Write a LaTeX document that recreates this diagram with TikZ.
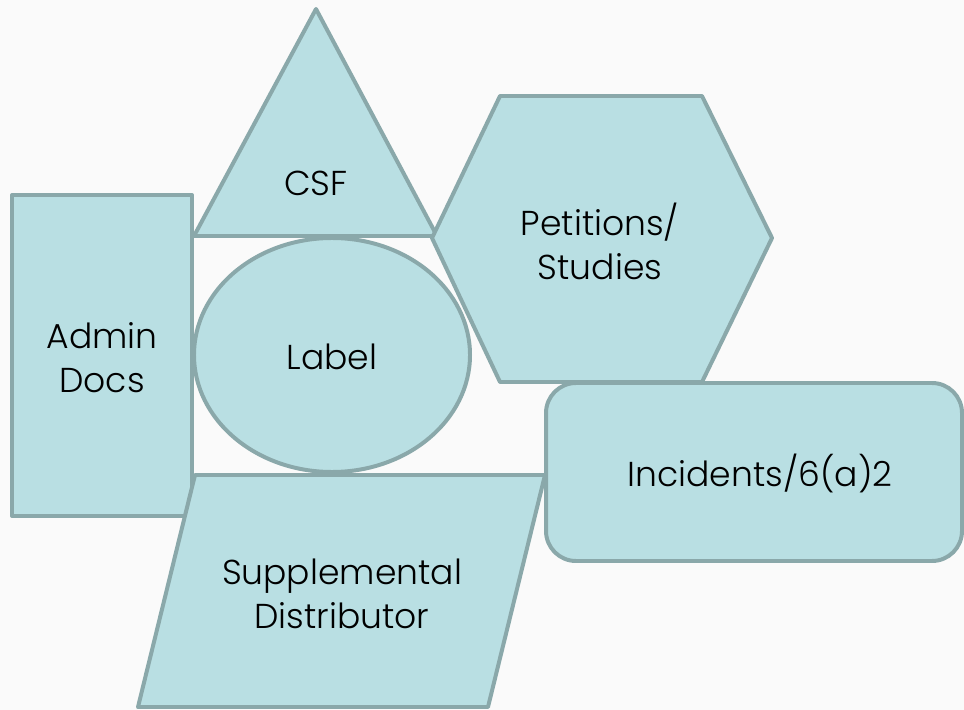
\documentclass[tikz,border=0pt]{standalone}
\usepackage{fontspec}
\setmainfont{Poppins Light}
\definecolor{shapefill}{HTML}{B9DFE3}
\definecolor{shapeline}{HTML}{8AA8AA}
\definecolor{pagebg}{HTML}{FAFAFA}
\tikzset{
  blockshape/.style={fill=shapefill, draw=shapeline, line width=3.4pt, line join=round},
  lbl/.style={align=center, text=black, font=\fontsize{29.5}{37.5}\selectfont}
}
\begin{document}
\begin{tikzpicture}[x=0.03cm, y=-0.03cm]
    \fill[pagebg] (0, 0) rectangle (964, 710);
    \useasboundingbox (0, 0) rectangle (964, 710);

    \draw[blockshape] (12, 195) rectangle (192, 516);
    \node[lbl] (admin) at (102, 358) {Admin\\Docs};

    \draw[blockshape] (316, 9) -- (437, 236) -- (194, 236) -- cycle;
    \node[lbl] (csf) at (316, 183) {CSF};

    \draw[blockshape] (332, 355) ellipse (138 and 117);
    \node[lbl] (label) at (332, 357) {Label};

    \draw[blockshape] (500, 96) -- (702, 96) -- (772, 238) -- (702, 382) -- (500, 382) -- (432, 238) -- cycle;
    \node[lbl] (petitions) at (600, 241) {Petitions/\\Studies};

    \draw[blockshape] (195, 475) -- (545, 475) -- (488, 707) -- (138, 707) -- cycle;
    \node[lbl] (supplemental) at (342, 594) {Supplemental\\Distributor};

    \draw[blockshape, rounded corners=0.9cm] (546, 383) rectangle (962, 561);
    \node[lbl] (incidents) at (760, 473) {Incidents/6(a)2};
\end{tikzpicture}
\end{document}
